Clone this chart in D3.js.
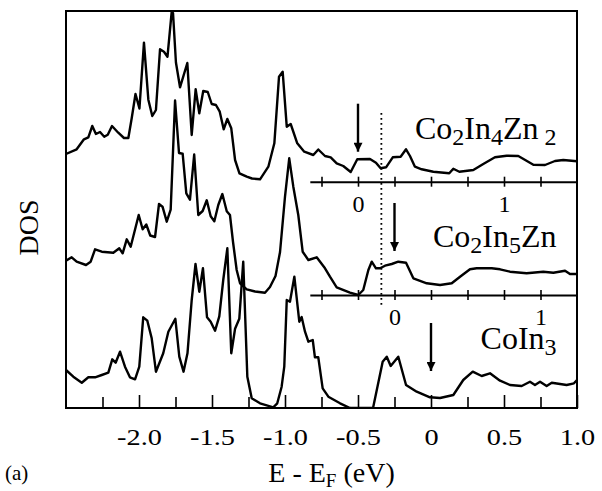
<!DOCTYPE html>
<html>
<head>
<meta charset="utf-8">
<style>
  body { margin: 0; background: #fff; }
  svg { display: block; }
  text { font-family: 'Liberation Serif', 'Times New Roman', serif; fill: #000; }
  .tickLabel { font-size: 24px; }
  .compound { font-size: 32px; }
  .compound .sub { font-size: 24px; }
</style>
</head>
<body>
<div id="chart"></div>
<script src="https://d3js.org/d3.v7.min.js"></script>
<script>
// DOS curves, [E - EF (eV, CoIn3 scale), DOS (arb. units, above own zero line)]
const co2In4Zn2 = [
  [-2.5, 2.77], [-2.427, 3.24], [-2.377, 4.24], [-2.347, 4.44], [-2.32, 5.57], [-2.295, 4.77],
  [-2.267, 4.97], [-2.238, 4.5], [-2.214, 4.7], [-2.185, 5.57], [-2.142, 4.9], [-2.103, 4.37],
  [-2.073, 4.37], [-2.05, 6.34], [-2.024, 8.77], [-1.997, 7.32], [-1.966, 13.9], [-1.936, 8.2],
  [-1.909, 6.57], [-1.884, 7.17], [-1.856, 13.24], [-1.829, 13.0], [-1.805, 12.5], [-1.776, 17.0],
  [-1.767, 16.87], [-1.747, 11.92], [-1.719, 9.44], [-1.669, 11.87], [-1.639, 4.67], [-1.612, 9.24],
  [-1.587, 6.84], [-1.56, 9.07], [-1.529, 8.97], [-1.502, 7.77], [-1.473, 7.67], [-1.447, 7.0],
  [-1.42, 5.24], [-1.395, 6.27], [-1.368, 5.34], [-1.342, 2.17], [-1.312, 0.84], [-1.262, 0.5],
  [-1.226, 0.32], [-1.171, 0.24], [-1.114, 1.5], [-1.073, 3.84], [-1.041, 10.5], [-1.016, 11.0],
  [-0.988, 5.5], [-0.961, 5.77], [-0.916, 3.84], [-0.868, 3.0], [-0.806, 2.67], [-0.772, 3.22],
  [-0.726, 2.57], [-0.687, 2.44], [-0.646, 1.84], [-0.601, 1.57], [-0.55, 0.97], [-0.505, 2.24],
  [-0.418, 2.27], [-0.377, 1.9], [-0.345, 1.34], [-0.308, 1.44], [-0.262, 2.44], [-0.208, 2.5],
  [-0.171, 3.24], [-0.144, 2.57], [-0.11, 1.5], [-0.064, 1.24], [0.016, 1.0], [0.125, 0.84],
  [0.153, 1.3], [0.194, 1.0], [0.29, 1.17], [0.358, 1.77], [0.438, 2.44], [0.518, 2.6],
  [0.598, 2.57], [0.701, 1.7], [0.781, 1.67], [0.849, 2.07], [0.906, 2.17], [1.0, 2.04]
];
const co2In5Zn = [
  [-2.5, 3.43], [-2.461, 3.77], [-2.427, 3.33], [-2.363, 3.0], [-2.331, 3.33], [-2.301, 4.57],
  [-2.255, 4.33], [-2.176, 4.23], [-2.135, 4.67], [-2.112, 4.17], [-2.084, 5.57], [-2.057, 4.83],
  [-2.002, 8.0], [-1.975, 6.57], [-1.95, 7.05], [-1.923, 5.95], [-1.89, 5.8], [-1.863, 9.1],
  [-1.839, 8.83], [-1.81, 7.33], [-1.783, 8.53], [-1.753, 19.45], [-1.726, 14.2], [-1.701, 14.13],
  [-1.676, 10.17], [-1.651, 9.53], [-1.622, 14.05], [-1.594, 8.0], [-1.564, 8.4], [-1.536, 9.47],
  [-1.509, 7.87], [-1.484, 7.38], [-1.457, 9.0], [-1.429, 10.1], [-1.399, 8.38], [-1.377, 8.0],
  [-1.356, 5.3], [-1.331, 2.5], [-1.308, 1.17], [-1.262, 0.57], [-1.205, 0.35], [-1.137, 0.23],
  [-1.103, 0.8], [-1.065, 1.9], [-1.034, 4.3], [-1.0, 9.83], [-0.971, 13.67], [-0.943, 10.83],
  [-0.909, 8.0], [-0.879, 4.33], [-0.84, 3.5], [-0.783, 3.77], [-0.726, 2.67], [-0.692, 1.83],
  [-0.646, 0.77], [-0.555, 0.23], [-0.498, 0.0], [-0.464, 0.5], [-0.429, 2.5], [-0.406, 3.33],
  [-0.377, 2.67], [-0.349, 2.67], [-0.315, 2.93], [-0.269, 3.1], [-0.224, 3.33], [-0.171, 3.23],
  [-0.121, 1.67], [-0.029, 1.17], [0.062, 1.0], [0.142, 1.17], [0.199, 1.83], [0.267, 2.57],
  [0.313, 2.67], [0.358, 2.67], [0.416, 2.67], [0.473, 2.57], [0.541, 2.33], [0.655, 2.17],
  [0.769, 2.33], [0.838, 2.23], [0.918, 2.43], [0.952, 2.1], [1.0, 2.1]
];
const coIn3 = [
  [-2.5, 3.8], [-2.45, 3.13], [-2.392, 2.53], [-2.347, 3.07], [-2.301, 3.07], [-2.255, 3.3],
  [-2.21, 3.53], [-2.183, 4.87], [-2.16, 4.53], [-2.13, 5.63], [-2.096, 4.13], [-2.062, 3.07],
  [-2.027, 2.87], [-1.998, 4.13], [-1.971, 9.07], [-1.943, 8.73], [-1.913, 6.97], [-1.884, 3.63],
  [-1.834, 5.47], [-1.799, 7.63], [-1.751, 8.92], [-1.724, 5.13], [-1.695, 3.63], [-1.668, 5.47],
  [-1.639, 10.8], [-1.613, 14.4], [-1.587, 11.63], [-1.562, 13.97], [-1.534, 9.07], [-1.509, 8.63],
  [-1.479, 7.73], [-1.45, 9.17], [-1.423, 12.8], [-1.395, 15.97], [-1.368, 5.47], [-1.342, 7.93],
  [-1.313, 8.92], [-1.286, 14.63], [-1.258, 3.13], [-1.228, 0.97], [-1.171, 0.47], [-1.08, 0.07],
  [-1.053, 0.47], [-1.023, 2.13], [-1.005, 4.13], [-0.988, 10.8], [-0.966, 10.63], [-0.936, 13.13],
  [-0.902, 8.63], [-0.886, 9.1], [-0.863, 7.63], [-0.84, 6.63], [-0.81, 6.8], [-0.795, 5.07],
  [-0.772, 5.07], [-0.742, 1.97], [-0.703, 1.13], [-0.623, 0.47], [-0.555, 0.0], [-0.397, 0.0],
  [-0.331, 4.63], [-0.303, 5.13], [-0.276, 4.2], [-0.224, 5.13], [-0.171, 2.3], [-0.098, 1.63],
  [-0.007, 1.07], [0.062, 1.0], [0.153, 1.3], [0.221, 2.8], [0.286, 3.63], [0.347, 3.2],
  [0.404, 3.47], [0.473, 2.73], [0.541, 2.3], [0.621, 2.2], [0.678, 2.63], [0.712, 2.3],
  [0.747, 2.63], [0.792, 2.2], [0.827, 2.53], [0.884, 2.4], [0.929, 2.3], [0.979, 2.47], [1.0, 2.8]
];

const curves = [co2In4Zn2, co2In5Zn, coIn3];
const names = [["Co", "2", "In", "4", "Zn", " 2"], ["Co", "2", "In", "5", "Zn"], ["CoIn", "3"]];
const zeroLine = [22.63, 11.3, 0];     // vertical offset of each curve (DOS units)
const fermi = [-0.5, -0.25, 0];        // EF of each compound on the bottom scale
const arrowTip = [3.0, 4.4, 3.7];      // arrow tip height above each zero line
const arrowLen = 4.8;
const dottedE = -0.34, dottedRange = [10.3, 29.5];
const majorTicks = [-2.0, -1.5, -1.0, -0.5, 0, 0.5, 1.0];
const minorTicks = [-2.25, -1.75, -1.25, -0.75, -0.25, 0.25, 0.75];
const insetTicks = [-0.75, -0.5, -0.25, 0, 0.25, 0.5, 0.75];   // on the bottom scale
const insetStart = -0.83;

const W = 602, H = 491;
const margin = {top: 11, right: 25, bottom: 83, left: 66};

const x = d3.scaleLinear().domain([-2.5, 1.0]).range([margin.left, W - margin.right]);
const y = d3.scaleLinear().domain([0, 39.7]).range([H - margin.bottom, margin.top]);

const fmt = d => d === 0 ? "0" : (d < 0 ? "-" : "") + Math.abs(d).toFixed(1);

const svg = d3.select("#chart").append("svg")
  .attr("width", W).attr("height", H);

svg.append("defs").append("clipPath").attr("id", "frame")
  .append("rect")
    .attr("x", x(-2.5)).attr("y", y(39.7))
    .attr("width", x(1.0) - x(-2.5)).attr("height", y(0) - y(39.7));

svg.select("defs").append("marker")
    .attr("id", "head")
    .attr("viewBox", "0 0 10 10")
    .attr("refX", 10).attr("refY", 5)
    .attr("markerWidth", 15).attr("markerHeight", 9)
    .attr("markerUnits", "userSpaceOnUse")
    .attr("orient", "auto")
  .append("path")
    .attr("d", "M0,0L10,5L0,10Z")
    .attr("fill", "#000");

// bottom axis, ticks pointing inward
svg.append("g")
  .attr("transform", `translate(0,${y(0)})`)
  .call(d3.axisBottom(x).tickValues(minorTicks).tickSize(-11).tickFormat(""))
  .call(g => g.select(".domain").remove());

svg.append("g")
  .attr("transform", `translate(0,${y(0)})`)
  .call(d3.axisBottom(x).tickValues(majorTicks).tickSize(-13).tickPadding(20).tickFormat(fmt))
  .call(g => g.select(".domain").remove())
  .call(g => g.selectAll("text").attr("class", "tickLabel").attr("font-family", null).attr("font-size", null)
    .attr("transform", "scale(1.18,1)"));

svg.selectAll(".tick line").attr("stroke", "#000").attr("stroke-width", 1.6);

// inset axes: the two upper compounds on their own energy zero
[0, 1].forEach(i => {
  const xi = d3.scaleLinear()
    .domain([insetStart - fermi[i], 1.0 - fermi[i]])
    .range([x(insetStart), x(1.0)]);
  svg.append("g")
    .attr("transform", `translate(0,${y(zeroLine[i])})`)
    .call(d3.axisBottom(xi)
      .tickValues(insetTicks.map(t => t - fermi[i]))
      .tickSize(5).tickSizeOuter(0).tickPadding(8)
      .tickFormat(d => Math.abs(d) < 1e-9 ? "0" : Math.abs(d - 1) < 1e-9 ? "1" : ""))
    .call(g => g.select(".domain").attr("stroke", "#000").attr("stroke-width", 2))
    .call(g => g.selectAll(".tick line").attr("y1", -5).attr("stroke", "#000").attr("stroke-width", 1.6))
    .call(g => g.selectAll("text").attr("class", "tickLabel").attr("font-family", null).attr("font-size", null));
});

// dotted line
svg.append("line")
  .attr("x1", x(dottedE)).attr("x2", x(dottedE))
  .attr("y1", y(dottedRange[1])).attr("y2", y(dottedRange[0]))
  .attr("stroke", "#000").attr("stroke-width", 1.8)
  .attr("stroke-dasharray", "1.8,3.2");

// curves
const line = d3.line().x(d => x(d[0]));
svg.append("g").attr("clip-path", "url(#frame)")
  .selectAll("path")
  .data(curves)
  .join("path")
    .attr("d", (c, i) => line.y(d => y(d[1] + zeroLine[i]))(c))
    .attr("fill", "none")
    .attr("stroke", "#000")
    .attr("stroke-width", 2.4)
    .attr("stroke-linejoin", "round");

// arrows at each Fermi level
svg.selectAll(".arrow")
  .data(fermi)
  .join("line")
    .attr("class", "arrow")
    .attr("x1", d => x(d)).attr("x2", d => x(d))
    .attr("y1", (d, i) => y(zeroLine[i] + arrowTip[i] + arrowLen))
    .attr("y2", (d, i) => y(zeroLine[i] + arrowTip[i]))
    .attr("stroke", "#000").attr("stroke-width", 2.4)
    .attr("marker-end", "url(#head)");

// compound labels
const labelE = 0.86, labelY = [26.9, 16.1, 5.9];
names.forEach((parts, i) => {
  const t = svg.append("text").attr("class", "compound")
    .attr("x", x(labelE)).attr("y", y(labelY[i]))
    .attr("text-anchor", "end");
  parts.forEach((p, j) => {
    const sub = j % 2 === 1;
    t.append("tspan")
      .attr("class", sub ? "sub" : null)
      .attr("dy", j === 0 ? 0 : (sub ? 6 : -6))
      .text(p);
  });
});

// frame
svg.append("rect")
  .attr("x", x(-2.5)).attr("y", y(39.7))
  .attr("width", x(1.0) - x(-2.5)).attr("height", y(0) - y(39.7))
  .attr("fill", "none").attr("stroke", "#000").attr("stroke-width", 2);

// axis titles
const xt = svg.append("text")
  .attr("x", (x(-2.5) + x(1.0)) / 2 + 10).attr("y", 482)
  .attr("text-anchor", "middle").style("font-size", "28px");
xt.append("tspan").text("E - E");
xt.append("tspan").attr("dy", 5).style("font-size", "19px").text("F");
xt.append("tspan").attr("dy", -5).text(" (eV)");

svg.append("text")
  .attr("transform", `translate(38,${(y(0) + y(39.7)) / 2 + 18}) rotate(-90)`)
  .attr("text-anchor", "middle").style("font-size", "28px")
  .text("DOS");

svg.append("text")
  .attr("x", 5).attr("y", 480).style("font-size", "21px")
  .text("(a)");
</script>
</body>
</html>
